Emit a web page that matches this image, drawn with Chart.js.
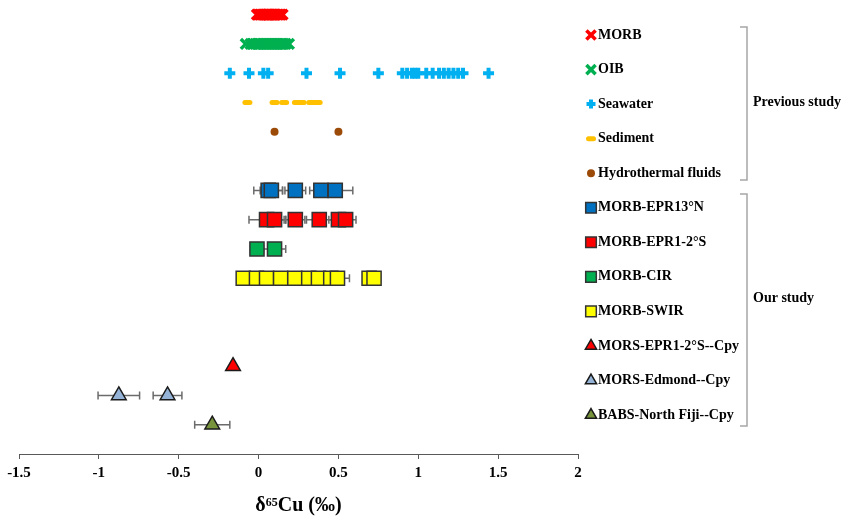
<!DOCTYPE html>
<html>
<head>
<meta charset="utf-8">
<script src="https://cdn.jsdelivr.net/npm/chart.js@4.4.0/dist/chart.umd.min.js"></script>
<style>
  html, body { margin: 0; padding: 0; background: #fff; }
</style>
</head>
<body>
<canvas id="chart1" width="843" height="516"></canvas>
<script>
// δ65Cu (‰)
const morb = [-0.01, 0.0, 0.01, 0.02, 0.03, 0.04, 0.05, 0.06, 0.06, 0.07, 0.08, 0.09, 0.10, 0.11, 0.12, 0.13, 0.14, 0.15];
const oib = [-0.08, -0.05, -0.04, -0.02, -0.01, 0.0, 0.01, 0.02, 0.03, 0.04, 0.05, 0.06, 0.07, 0.08, 0.09, 0.10, 0.11, 0.12, 0.13, 0.14, 0.15, 0.16, 0.17, 0.19];
const seawater = [-0.18, -0.06, 0.03, 0.06, 0.30, 0.51, 0.75, 0.90, 0.93, 0.96, 0.98, 1.00, 1.05, 1.09, 1.13, 1.16, 1.19, 1.22, 1.25, 1.28, 1.44];
const sediment = [-0.07, 0.10, 0.16, 0.24, 0.27, 0.33, 0.37];
const hydro = [0.10, 0.50];

const epr13n = [0.06, 0.08, 0.23, 0.39, 0.48];
const epr13nErr = [0.09, 0.07, 0.065, 0.07, 0.11];
const epr12s = [0.05, 0.10, 0.23, 0.38, 0.50, 0.545];
const epr12sErr = [0.11, 0.07, 0.06, 0.08, 0.06, 0.065];
const cir = [-0.01, 0.10];
const cirErr = [0.04, 0.07];
const swir = [-0.096, -0.013, 0.05, 0.138, 0.227, 0.314, 0.375, 0.452, 0.494, 0.692, 0.723];
const swirErr = [0.04, 0.04, 0.04, 0.04, 0.04, 0.04, 0.04, 0.05, 0.075, 0.04, 0.04];
const morsEpr = [-0.16];
const morsEprErr = [0];
const edmond = [-0.875, -0.57];
const edmondErr = [0.13, 0.09];
const fiji = [-0.29];
const fijiErr = [0.11];

const xTicks = [-1.5, -1, -0.5, 0, 0.5, 1, 1.5, 2];

const serif = '"Liberation Serif", "Times New Roman", serif';

function row(vals, y) {
  return vals.map(v => ({x: v, y: y}));
}

function series(label, vals, y, style) {
  return Object.assign({label: label, data: row(vals, y)}, style);
}

const rectStyle = (fill) => ({pointStyle: 'rect', pointRadius: 10, pointBorderWidth: 1.5,
  pointBackgroundColor: fill, pointBorderColor: '#333333', legendRadius: 7.5});
const triStyle = (fill) => ({pointStyle: 'triangle', pointRadius: 8.5, pointBorderWidth: 1.5,
  pointBackgroundColor: fill, pointBorderColor: '#1a1a1a', legendRadius: 6.5});

const datasets = [
  series('MORB', morb, 15, {pointStyle: 'crossRot', pointRadius: 7, pointBorderWidth: 3.5,
    pointBorderColor: '#ff0000', pointBackgroundColor: '#ff0000', legendRadius: 6.5}),
  series('OIB', oib, 14, {pointStyle: 'crossRot', pointRadius: 7, pointBorderWidth: 3.5,
    pointBorderColor: '#00b050', pointBackgroundColor: '#00b050', legendRadius: 6.5}),
  series('Seawater', seawater, 13, {pointStyle: 'cross', pointRadius: 5.5, pointBorderWidth: 4,
    pointBorderColor: '#00b0f0', pointBackgroundColor: '#00b0f0', legendRadius: 4.5}),
  series('Sediment', sediment, 12, {pointStyle: 'line', pointRadius: 2.5, pointBorderWidth: 5,
    pointBorderColor: '#ffc000', pointBackgroundColor: '#ffc000', legendRadius: 2.5, roundCap: true}),
  series('Hydrothermal fluids', hydro, 11, {pointStyle: 'circle', pointRadius: 4, pointBorderWidth: 0,
    pointBorderColor: '#9c4a08', pointBackgroundColor: '#9c4a08', legendRadius: 4}),
  series('MORB-EPR13°N', epr13n, 9, Object.assign(rectStyle('#0070c0'), {errors: epr13nErr})),
  series('MORB-EPR1-2°S', epr12s, 8, Object.assign(rectStyle('#ff0000'), {errors: epr12sErr})),
  series('MORB-CIR', cir, 7, Object.assign(rectStyle('#00b050'), {errors: cirErr})),
  series('MORB-SWIR', swir, 6, Object.assign(rectStyle('#ffff00'), {errors: swirErr})),
  series('MORS-EPR1-2°S--Cpy', morsEpr, 3, Object.assign(triStyle('#ff0000'), {errors: morsEprErr})),
  series('MORS-Edmond--Cpy', edmond, 2, Object.assign(triStyle('#95b3d7'), {errors: edmondErr})),
  series('BABS-North Fiji--Cpy', fiji, 1, Object.assign(triStyle('#77933c'), {errors: fijiErr}))
];

// horizontal error bars, drawn under the markers
const errorBars = {
  id: 'errorBars',
  beforeDatasetsDraw(chart) {
    const ctx = chart.ctx;
    const xs = chart.scales.x, ys = chart.scales.y;
    ctx.save();
    ctx.strokeStyle = '#6b6b6b';
    ctx.lineWidth = 1.5;
    chart.data.datasets.forEach(ds => {
      if (!ds.errors) return;
      ds.data.forEach((p, i) => {
        const e = ds.errors[i];
        if (!e) return;
        const x1 = xs.getPixelForValue(p.x - e);
        const x2 = xs.getPixelForValue(p.x + e);
        const y = ys.getPixelForValue(p.y);
        ctx.beginPath();
        ctx.moveTo(x1, y); ctx.lineTo(x2, y);
        ctx.moveTo(x1, y - 4); ctx.lineTo(x1, y + 4);
        ctx.moveTo(x2, y - 4); ctx.lineTo(x2, y + 4);
        ctx.stroke();
      });
    });
    ctx.restore();
  },
  beforeDatasetDraw(chart, args) {
    chart.ctx.lineCap = chart.data.datasets[args.index].roundCap ? 'round' : 'butt';
  },
  afterDatasetDraw(chart) {
    chart.ctx.lineCap = 'butt';
  }
};

// legend list with the two brackets on the right
const sideLegend = {
  id: 'sideLegend',
  afterDraw(chart) {
    const ctx = chart.ctx;
    ctx.save();
    ctx.font = 'bold 14px ' + serif;
    ctx.textBaseline = 'middle';
    ctx.textAlign = 'left';
    chart.data.datasets.forEach((ds, i) => {
      const y = 35 + i * 34.55;
      ctx.fillStyle = ds.pointBackgroundColor;
      ctx.strokeStyle = ds.pointBorderColor;
      ctx.lineWidth = ds.pointBorderWidth;
      ctx.lineCap = ds.roundCap ? 'round' : 'butt';
      Chart.helpers.drawPoint(ctx, {pointStyle: ds.pointStyle, radius: ds.legendRadius,
        borderWidth: ds.pointBorderWidth, rotation: 0}, 591, y);
      ctx.lineCap = 'butt';
      ctx.fillStyle = '#000';
      ctx.fillText(ds.label, 598, y);
    });

    ctx.strokeStyle = '#a6a6a6';
    ctx.lineWidth = 1.5;
    ctx.beginPath();
    ctx.moveTo(740, 27); ctx.lineTo(747, 27); ctx.lineTo(747, 180); ctx.lineTo(740, 180);
    ctx.moveTo(740, 194); ctx.lineTo(747, 194); ctx.lineTo(747, 426); ctx.lineTo(740, 426);
    ctx.stroke();
    ctx.fillStyle = '#000';
    ctx.fillText('Previous study', 753, 102);
    ctx.fillText('Our study', 753, 298);
    ctx.restore();
  }
};

const config1 = {
  type: 'scatter',
  data: {datasets: datasets},
  options: {
    responsive: false,
    animation: false,
    events: [],
    layout: {autoPadding: false, padding: {left: 19, right: 265, top: 0, bottom: 0}},
    plugins: {
      legend: {display: false},
      tooltip: {enabled: false}
    },
    scales: {
      x: {
        type: 'linear',
        min: -1.5,
        max: 2,
        afterBuildTicks: (axis) => { axis.ticks = xTicks.map(v => ({value: v})); },
        grid: {drawOnChartArea: false, drawTicks: true, tickLength: 5, color: '#595959', lineWidth: 1},
        border: {color: '#595959', width: 1},
        ticks: {
          color: '#000',
          padding: 5,
          font: {family: serif, size: 15, weight: 'bold', lineHeight: 1.2},
          callback: (v) => String(v)
        },
        title: {
          display: true,
          text: 'δ⁶⁵Cu (‰)',
          color: '#000',
          padding: {top: 9, bottom: 0},
          font: {family: serif, size: 20, weight: 'bold', lineHeight: 1.0}
        }
      },
      y: {
        type: 'linear',
        display: false,
        min: 0,
        max: 15.5
      }
    }
  },
  plugins: [errorBars, sideLegend]
};

const chart1 = new Chart(document.getElementById('chart1'), config1);
</script>
</body>
</html>
